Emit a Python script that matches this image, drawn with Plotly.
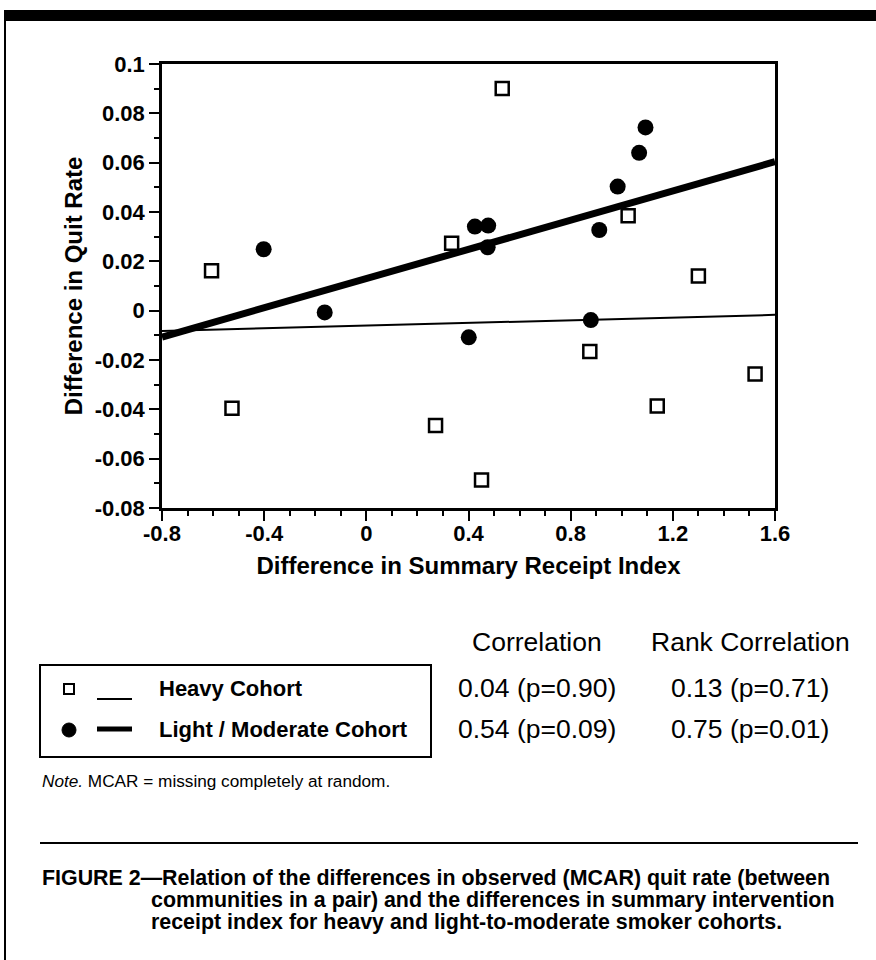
import numpy as np
import plotly.graph_objects as go

# ---------------- data ----------------
heavy_x = [-0.606, -0.526, 0.271, 0.334, 0.451, 0.532, 0.875, 1.025, 1.139, 1.300, 1.522]
heavy_y = [0.0162, -0.0396, -0.0466, 0.0273, -0.0686, 0.0901, -0.0166, 0.0385, -0.0386, 0.0141, -0.0257]

light_x = [-0.402, -0.163, 0.401, 0.425, 0.477, 0.475, 0.879, 0.912, 0.984, 1.068, 1.093]
light_y = [0.0249, -0.0007, -0.0108, 0.0341, 0.0345, 0.0257, -0.0038, 0.0327, 0.0503, 0.0640, 0.0743]

x_range = [-0.8, 1.6]
y_range = [-0.08, 0.1]
x_ticks = [-0.8, -0.4, 0, 0.4, 0.8, 1.2, 1.6]
x_tick_labels = ["-0.8", "-0.4", "0", "0.4", "0.8", "1.2", "1.6"]
y_ticks = [-0.08, -0.06, -0.04, -0.02, 0, 0.02, 0.04, 0.06, 0.08, 0.1]
y_tick_labels = ["-0.08", "-0.06", "-0.04", "-0.02", "0", "0.02", "0.04", "0.06", "0.08", "0.1"]

cohort_names = ["Heavy Cohort", "Light / Moderate Cohort"]
stat_headers = ["Correlation", "Rank Correlation"]
correlation = ["0.04 (p=0.90)", "0.54 (p=0.09)"]
rank_correlation = ["0.13 (p=0.71)", "0.75 (p=0.01)"]

x_title = "Difference in Summary Receipt Index"
y_title = "Difference in Quit Rate"
note_text = "<i>Note.</i> MCAR = missing completely at random."
caption_lines = [
    "FIGURE 2\u2014Relation of the differences in observed (MCAR) quit rate (between",
    "communities in a pair) and the differences in summary intervention",
    "receipt index for heavy and light-to-moderate smoker cohorts.",
]

# ---------------- layout geometry (pixels) ----------------
W, H = 876, 960
L, R, T, B = 162, 775, 64, 508
FONT = "Liberation Sans, Arial, Helvetica, sans-serif"


def px(x):
    return (x - L) / (R - L)


def py(y):
    return (B - y) / (B - T)


# regression fits
hb = np.polyfit(heavy_x, heavy_y, 1)
lb = np.polyfit(light_x, light_y, 1)
fit_x = np.array(x_range)

fig = go.Figure()
fig.add_trace(go.Scatter(x=fit_x, y=np.polyval(hb, fit_x), mode="lines",
                         line=dict(color="black", width=2), showlegend=False, hoverinfo="skip"))
fig.add_trace(go.Scatter(x=fit_x, y=np.polyval(lb, fit_x), mode="lines",
                         line=dict(color="black", width=7), showlegend=False, hoverinfo="skip"))
fig.add_trace(go.Scatter(x=heavy_x, y=heavy_y, mode="markers", name=cohort_names[0],
                         marker=dict(symbol="square", size=13, color="white",
                                     line=dict(color="black", width=2.5)),
                         showlegend=False, cliponaxis=False))
fig.add_trace(go.Scatter(x=light_x, y=light_y, mode="markers", name=cohort_names[1],
                         marker=dict(symbol="circle", size=16, color="black",
                                     line=dict(color="black", width=0)),
                         showlegend=False, cliponaxis=False))

axis_common = dict(
    showgrid=False, zeroline=False, showline=True, linecolor="black", linewidth=2.5,
    mirror=True, ticks="outside", ticklen=10, tickwidth=2, tickcolor="black",
    tickfont=dict(family=FONT, size=22, color="black", weight="bold"),
)
fig.update_xaxes(range=x_range, tickvals=x_ticks, ticktext=x_tick_labels,
                 ticklabelstandoff=-6,
                 minor=dict(dtick=0.1, tick0=-0.8, ticks="outside", ticklen=5, tickwidth=2,
                            tickcolor="black", showgrid=False),
                 title=dict(text=x_title, standoff=13,
                            font=dict(family=FONT, size=24, color="black", weight="bold")),
                 **axis_common)
fig.update_yaxes(range=y_range, tickvals=y_ticks, ticktext=y_tick_labels,
                 minor=dict(dtick=0.01, tick0=-0.08, ticks="outside", ticklen=5, tickwidth=2,
                            tickcolor="black", showgrid=False),
                 title=dict(text=y_title, standoff=6,
                            font=dict(family=FONT, size=24, color="black", weight="bold")),
                 **axis_common)

shapes = []
# top black bar and left border
shapes.append(dict(type="rect", xref="paper", yref="paper", x0=px(4), x1=px(W), y0=py(10), y1=py(21),
                   fillcolor="black", line=dict(width=0), layer="above"))
shapes.append(dict(type="line", xref="paper", yref="paper", x0=px(5), x1=px(5), y0=py(20), y1=py(H),
                   line=dict(color="black", width=2)))
# legend box
shapes.append(dict(type="rect", xref="paper", yref="paper", x0=px(40), x1=px(431), y0=py(665), y1=py(757),
                   line=dict(color="black", width=2), fillcolor="rgba(0,0,0,0)"))
# legend symbols
shapes.append(dict(type="rect", xref="paper", yref="paper", xsizemode="pixel", ysizemode="pixel",
                   xanchor=px(69), yanchor=py(689), x0=-5, x1=5, y0=-5, y1=5,
                   line=dict(color="black", width=2), fillcolor="white"))
shapes.append(dict(type="line", xref="paper", yref="paper", x0=px(97), x1=px(132), y0=py(699), y1=py(699),
                   line=dict(color="black", width=2)))
shapes.append(dict(type="circle", xref="paper", yref="paper", xsizemode="pixel", ysizemode="pixel",
                   xanchor=px(69), yanchor=py(730), x0=-7, x1=7, y0=-7, y1=7,
                   line=dict(color="black", width=1), fillcolor="black"))
shapes.append(dict(type="line", xref="paper", yref="paper", x0=px(97), x1=px(132), y0=py(729), y1=py(729),
                   line=dict(color="black", width=5)))
# separator rule
shapes.append(dict(type="line", xref="paper", yref="paper", x0=px(40), x1=px(858), y0=py(843), y1=py(843),
                   line=dict(color="black", width=2)))

annotations = []
row_y = [688, 729]
for i, name in enumerate(cohort_names):
    annotations.append(dict(x=px(157), y=py(row_y[i]), xref="paper", yref="paper", text=name,
                            showarrow=False, xanchor="left", yanchor="middle",
                            font=dict(family=FONT, size=22, color="black", weight="bold")))
    annotations.append(dict(x=px(537), y=py(row_y[i]), xref="paper", yref="paper", text=correlation[i],
                            showarrow=False, xanchor="center", yanchor="middle",
                            font=dict(family=FONT, size=26.5, color="black")))
    annotations.append(dict(x=px(750), y=py(row_y[i]), xref="paper", yref="paper", text=rank_correlation[i],
                            showarrow=False, xanchor="center", yanchor="middle",
                            font=dict(family=FONT, size=26.5, color="black")))
for hx, htxt in zip([537, 750], stat_headers):
    annotations.append(dict(x=px(hx), y=py(642), xref="paper", yref="paper", text=htxt,
                            showarrow=False, xanchor="center", yanchor="middle",
                            font=dict(family=FONT, size=26.5, color="black")))
annotations.append(dict(x=px(40), y=py(781), xref="paper", yref="paper", text=note_text,
                        showarrow=False, xanchor="left", yanchor="middle",
                        font=dict(family=FONT, size=17.2, color="black")))
cap_x = [40, 149, 149]
cap_y = [878, 900, 922]
for cx, cy, ctext in zip(cap_x, cap_y, caption_lines):
    annotations.append(dict(x=px(cx), y=py(cy), xref="paper", yref="paper", text=ctext,
                            showarrow=False, xanchor="left", yanchor="middle",
                            font=dict(family=FONT, size=21.4, color="black", weight="bold")))

fig.update_layout(
    width=W, height=H, autosize=False,
    margin=dict(l=L, r=W - R, t=T, b=H - B, pad=0),
    paper_bgcolor="white", plot_bgcolor="white",
    shapes=shapes, annotations=annotations, showlegend=False,
    font=dict(family=FONT, color="black"),
)

fig.write_html("out.html", config={"displayModeBar": False},
               post_script="document.body.style.margin='0';document.body.style.padding='0';")
